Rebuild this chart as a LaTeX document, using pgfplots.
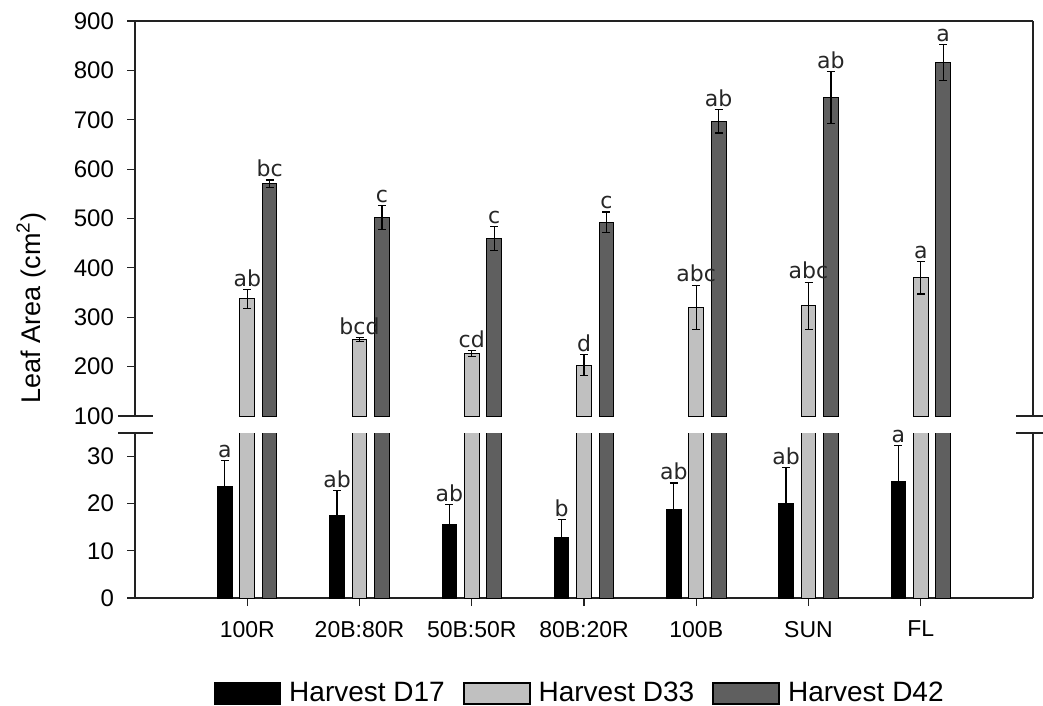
\documentclass[border=0pt]{standalone}
\usepackage{pgfplots}
\pgfplotsset{compat=1.18}
\usepackage{pgfplotstable}
\usepackage{fontspec}
\setmainfont{Liberation Sans}
\newfontfamily\letterfont{DejaVu Sans}

\definecolor{dthree}{HTML}{C0C0C0}
\definecolor{dfour}{HTML}{5F5F5F}
\definecolor{axisgray}{HTML}{222222}

% leaf area per light treatment: mean, standard error, significance letter
\pgfplotstableread{
x y err lab
0 23.7 5.5 a
1 17.5 5.3 ab
2 15.5 4.3 ab
3 12.9 3.7 b
4 18.7 5.7 ab
5 20.1 7.5 ab
6 24.7 7.7 a
}\dayseventeen

\pgfplotstableread{
x y err lab
0 337 19 ab
1 255 4 bcd
2 226 6 cd
3 203 21 d
4 320 45 abc
5 323 48 abc
6 380 33 a
}\daythirtythree

\pgfplotstableread{
x y err lab
0 570 8 bc
1 502 24 c
2 459 24 c
3 492 21 c
4 697 24 ab
5 745 52 ab
6 816 36 a
}\dayfortytwo

\pgfplotsset{
  leafbase/.style={
    scale only axis, width=449pt,
    xmin=-1, xmax=7,
    ybar, bar width=0.13,
    tick align=outside, major tick length=4pt,
    tick style={axisgray, line width=0.6pt},
    axis line style={axisgray, line width=0.6pt, -},
    /pgf/number format/assume math mode=true,
    yticklabel style={font=\fontsize{12}{14}\selectfont, xshift=-3pt},
    error bars/y dir=both, error bars/y explicit,
    error bars/error bar style={black, line width=0.6pt},
    error bars/error mark options={rotate=90, black, mark size=2pt, line width=0.6pt},
  },
  lettered/.style={
    nodes near coords, point meta=explicit symbolic,
    visualization depends on={\thisrow{err} \as \errval},
    every node near coord/.append style={
      font=\letterfont\fontsize{11}{13}\selectfont, text=black!85,
      anchor=south, inner sep=1.2pt,
      shift={(axis direction cs:0,\errval)}},
  },
  barD17/.style={fill=black, draw=black, line width=0.5pt, bar shift=-0.2,
    legend image code/.code={\draw[fill=black, draw=black, line width=0.6pt] (0pt,-5.25pt) rectangle (33pt,5.25pt);}},
  barD33/.style={fill=dthree, draw=black, line width=0.5pt, bar shift=0,
    legend image code/.code={\draw[fill=dthree, draw=black, line width=0.9pt] (0pt,-5.25pt) rectangle (33pt,5.25pt);}},
  barD42/.style={fill=dfour, draw=black, line width=0.5pt, bar shift=0.2,
    legend image code/.code={\draw[fill=dfour, draw=black, line width=0.9pt] (0pt,-5.25pt) rectangle (33pt,5.25pt);}},
}

\begin{document}
\begin{tikzpicture}
% upper segment of the broken axis: 100 to 900
\begin{axis}[leafbase,
  at={(67.5pt,-208pt)}, anchor=south west, height=197.5pt,
  ymin=100, ymax=900, ytick={100,200,...,900},
  xtick=\empty,
  axis x line*=top, axis y line*=box, ytick pos=left,
]
\addplot[barD33, lettered] table[x=x, y=y, y error=err, meta=lab] {\daythirtythree};
\addplot[barD42, lettered] table[x=x, y=y, y error=err, meta=lab] {\dayfortytwo};
\end{axis}

% lower segment of the broken axis: 0 to 35
\begin{axis}[leafbase,
  at={(67.5pt,-299pt)}, anchor=south west, height=82.5pt,
  ymin=0, ymax=35, ytick={0,10,20,30},
  xtick={0,...,6},
  xticklabels={100R,20B:80R,50B:50R,80B:20R,100B,SUN,FL},
  xticklabel style={font=\fontsize{11.5}{13}\selectfont, yshift=-4pt},
  axis x line*=bottom, axis y line*=box, ytick pos=left, xtick pos=left,
  legend columns=3,
  legend style={at={(0.088,-0.579)}, anchor=west, draw=none, fill=none,
    inner sep=0pt, outer sep=0pt,
    font=\fontsize{14}{16}\selectfont,
    nodes={inner sep=0pt},
    /tikz/every odd column/.append style={column sep=4pt},
    /tikz/every even column/.append style={column sep=9pt}},
]
\addplot[barD17, lettered] table[x=x, y=y, y error=err, meta=lab] {\dayseventeen};
\addplot[barD33] table[x=x, y=y, y error=err] {\daythirtythree};
\addplot[barD42] table[x=x, y=y, y error=err] {\dayfortytwo};
\legend{Harvest D17, Harvest D33, Harvest D42}
\end{axis}

% break marks on both vertical axis lines
\draw[axisgray, line width=0.6pt] (59pt,-208pt) -- (76.5pt,-208pt);
\draw[axisgray, line width=0.6pt] (59pt,-216.5pt) -- (76.5pt,-216.5pt);
\draw[axisgray, line width=0.6pt] (508pt,-208pt) -- (521.5pt,-208pt);
\draw[axisgray, line width=0.6pt] (508pt,-216.5pt) -- (521.5pt,-216.5pt);

\node[rotate=90, font=\fontsize{13.5}{16}\selectfont] at (15.5pt,-154pt) {Leaf Area (cm\textsuperscript{2})};

\pgfresetboundingbox
\path[use as bounding box] (0pt,0pt) rectangle (521.5pt,-353pt);
\end{tikzpicture}
\end{document}
